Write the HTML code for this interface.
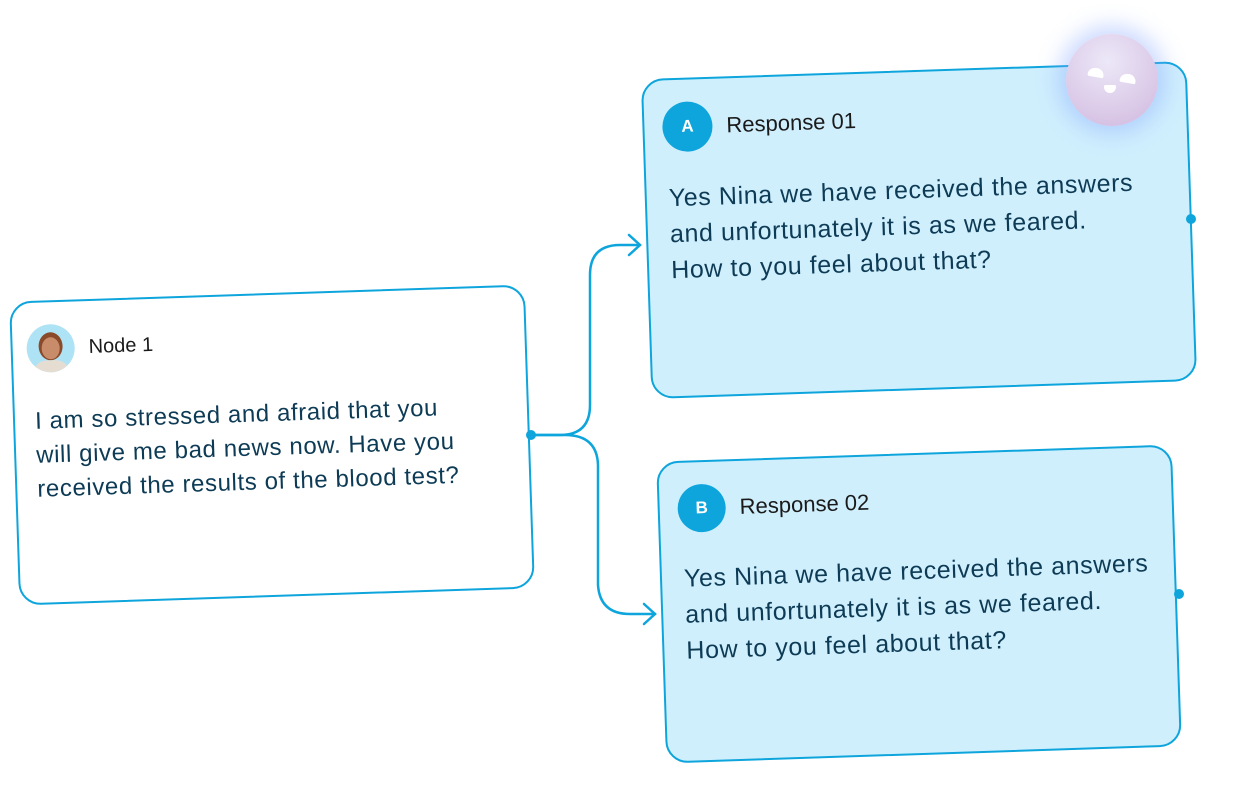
<!DOCTYPE html>
<html><head><style>
body{margin:0;width:1239px;height:790px;background:#fff;position:relative;overflow:hidden;font-family:"Liberation Sans",sans-serif;}
.box{position:absolute;box-sizing:border-box;border:2.5px solid #0ea5dc;border-radius:22px;transform:rotate(-1.9deg);}
.hdr{position:absolute;display:flex;align-items:center;gap:14px;color:#1a1a1a;font-size:22px;}
.circ{width:50px;height:50px;border-radius:50%;background:#0ea5dc;color:#fff;font-weight:bold;font-size:17px;display:flex;align-items:center;justify-content:center;}
.txt{position:absolute;color:#0d3b55;font-size:24px;letter-spacing:0.6px;line-height:34px;white-space:nowrap;}
.dot{position:absolute;width:10px;height:10px;border-radius:50%;background:#0ea5dc;}
</style></head><body>
<svg width="1239" height="790" style="position:absolute;left:0;top:0">
<g fill="none" stroke="#0ea5dc" stroke-width="2.5" stroke-linecap="round">
<path d="M531 435 H560 Q590 435 590 405 V275 Q590 245 620 245 H640"/>
<path d="M629 235 L640 245 L629 255"/>
<path d="M531 435 H565 Q597 435 598 465 V585 Q600 614 630 614 H655"/>
<path d="M644 604 L655 614 L644 624"/>
</g></svg>
<div class="box" style="left:14px;top:293px;width:516px;height:304px;background:#fff;">
<div class="hdr" style="left:14px;top:22px;font-size:20px;">
<div class="circ" style="background:#aee3f5;overflow:hidden;position:relative;width:48px;height:48px;">
<div style="position:absolute;left:12px;top:8px;width:24px;height:28px;border-radius:50%;background:#8a4a2a"></div>
<div style="position:absolute;left:15px;top:13px;width:18px;height:22px;border-radius:50%;background:#c98c6a"></div>
<div style="position:absolute;left:8px;top:36px;width:32px;height:20px;border-radius:40%;background:#e6ddd2"></div>
</div><span>Node 1</span></div>
<div class="txt" style="left:20px;top:102px;">I am so stressed and afraid that you<br>will give me bad news now. Have you<br>received the results of the blood test?</div>
</div>
<div class="box" style="left:646px;top:70px;width:546px;height:320px;background:#d0effd;">
<div class="hdr" style="left:18px;top:22px;"><div class="circ">A</div><span>Response 01</span></div>
<div class="txt" style="left:22px;top:100px;font-size:25px;line-height:36px;">Yes Nina we have received the answers<br>and unfortunately it is as we feared.<br>How to you feel about that?</div>
</div>
<div class="box" style="left:661px;top:453px;width:516px;height:302px;background:#d0effd;">
<div class="hdr" style="left:18px;top:22px;"><div class="circ" style="width:48px;height:48px;">B</div><span>Response 02</span></div>
<div class="txt" style="left:22px;top:98px;font-size:25px;line-height:36px;">Yes Nina we have received the answers<br>and unfortunately it is as we feared.<br>How to you feel about that?</div>
</div>
<div class="dot" style="left:526px;top:430px"></div>
<div class="dot" style="left:1186px;top:214px"></div>
<div class="dot" style="left:1174px;top:589px"></div>
<div style="position:absolute;left:1066px;top:34px;width:92px;height:92px;border-radius:50%;background:radial-gradient(circle at 45% 30%,#ece8f8,#d9c6e6 70%,#cdb6de);box-shadow:0 0 22px 8px rgba(140,170,255,0.45);">
<div style="position:absolute;left:22px;top:34px;width:16px;height:9px;background:#fff;border-radius:9px 9px 2px 2px;transform:rotate(10deg)"></div>
<div style="position:absolute;left:54px;top:40px;width:16px;height:9px;background:#fff;border-radius:9px 9px 2px 2px;transform:rotate(10deg)"></div>
<div style="position:absolute;left:38px;top:51px;width:12px;height:8px;background:#fff;border-radius:2px 2px 8px 8px"></div>
</div>
</body></html>
